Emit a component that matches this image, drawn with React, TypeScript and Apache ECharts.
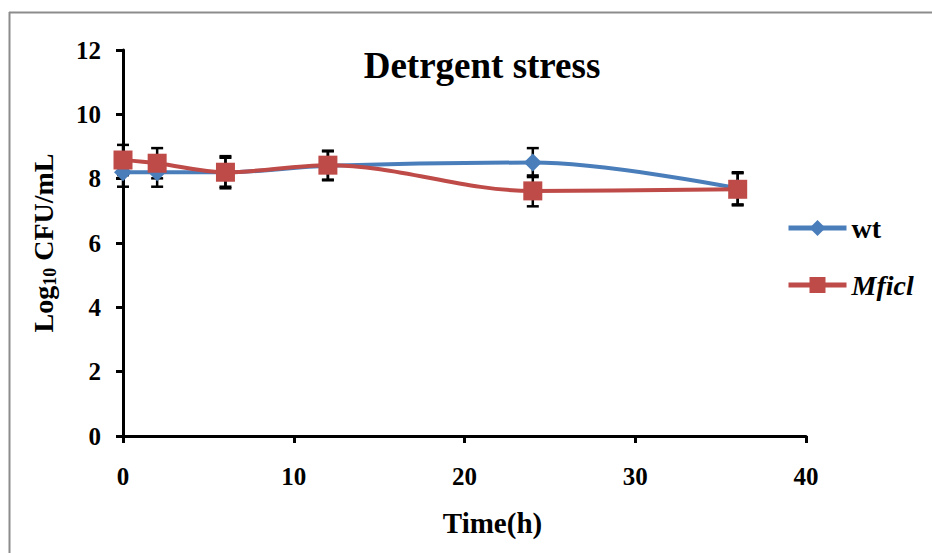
import React, { useEffect, useRef } from "react";
import * as echarts from "echarts";

// Sampling times (h)
const times = [0, 2, 6, 12, 24, 36];
// Mean log10 CFU/mL
const wtValues = [8.2, 8.2, 8.2, 8.4, 8.5, 7.7];
const mficlValues = [8.58, 8.48, 8.2, 8.42, 7.62, 7.67];
// Standard deviations
const wtErrors = [0.45, 0.45, 0.45, 0.45, 0.45, 0.5];
const mficlErrors = [0.47, 0.47, 0.5, 0.45, 0.48, 0.5];

const yTicks = [0, 2, 4, 6, 8, 10, 12];
const xTicks = [0, 10, 20, 30, 40];

const FONT = "'Liberation Serif', 'Times New Roman', serif";

function errorData(values: number[], errs: number[]) {
  return times.map((t, i) => [t, values[i] - errs[i], values[i] + errs[i]]);
}

function renderError(params: any, api: any) {
  const x = api.value(0);
  const lo = api.coord([x, api.value(1)]);
  const hi = api.coord([x, api.value(2)]);
  const half = 6;
  const style = { stroke: "#000", lineWidth: 2.5 };
  return {
    type: "group",
    children: [
      { type: "line", shape: { x1: lo[0], y1: lo[1], x2: hi[0], y2: hi[1] }, style },
      { type: "line", shape: { x1: lo[0] - half, y1: lo[1], x2: lo[0] + half, y2: lo[1] }, style },
      { type: "line", shape: { x1: hi[0] - half, y1: hi[1], x2: hi[0] + half, y2: hi[1] }, style },
    ],
  };
}

export default function App() {
  const ref = useRef<HTMLDivElement>(null);

  useEffect(() => {
    document.body.style.margin = "0";
    const chart = echarts.init(ref.current!, null, { renderer: "svg" });
    chart.setOption({
      animation: false,
      backgroundColor: "#fff",
      title: {
        text: "Detrgent stress",
        left: 477,
        top: 42,
        textAlign: "center",
        textStyle: { fontFamily: FONT, fontWeight: "bold", fontSize: 37, color: "#000" },
      },
      legend: {
        orient: "vertical",
        left: 781,
        top: 209,
        itemGap: 29,
        itemWidth: 58,
        itemHeight: 20,
        data: ["wt", "Mficl"],
        lineStyle: { width: 5 },
        formatter: (name: string) => (name === "Mficl" ? "{i|Mficl}" : "{b|" + name + "}"),
        textStyle: {
          fontFamily: FONT,
          fontWeight: "bold",
          fontSize: 28,
          color: "#000",
          rich: {
            b: { fontFamily: FONT, fontWeight: "bold", fontSize: 28, color: "#000" },
            i: { fontFamily: FONT, fontWeight: "bold", fontStyle: "italic", fontSize: 28, color: "#000" },
          },
        },
      },
      graphic: [
        { type: "line", shape: { x1: 9.5, y1: 12, x2: 9.5, y2: 553 }, style: { stroke: "#8c8c8c", lineWidth: 2 } },
        { type: "line", shape: { x1: 9, y1: 12.5, x2: 932, y2: 12.5 }, style: { stroke: "#8c8c8c", lineWidth: 2 } },
      ],
      grid: { left: 123, top: 50, right: 126, bottom: 117 },
      xAxis: {
        type: "value",
        min: xTicks[0],
        max: xTicks[xTicks.length - 1],
        interval: 10,
        name: "Time(h)",
        nameLocation: "middle",
        nameGap: 72,
        nameTextStyle: { fontFamily: FONT, fontWeight: "bold", fontSize: 29, color: "#000", padding: [0, 0, 0, 56] },
        axisLine: { lineStyle: { color: "#000", width: 3 } },
        axisTick: { show: true, length: 7, lineStyle: { color: "#000", width: 3 } },
        axisLabel: { fontFamily: FONT, fontWeight: "bold", fontSize: 25, color: "#000", margin: 28 },
        splitLine: { show: false },
      },
      yAxis: {
        type: "value",
        min: yTicks[0],
        max: yTicks[yTicks.length - 1],
        interval: 2,
        name: "{n|Log}{s|10}{n| CFU/mL}",
        nameLocation: "middle",
        nameGap: 64,
        nameRotate: 90,
        nameTextStyle: {
          rich: {
            n: { fontFamily: FONT, fontWeight: "bold", fontSize: 28, color: "#000" },
            s: { fontFamily: FONT, fontWeight: "bold", fontSize: 18, color: "#000", verticalAlign: "bottom", padding: [14, 0, 0, 0] },
          },
        },
        axisLine: { show: true, lineStyle: { color: "#000", width: 3 } },
        axisTick: { show: true, length: 7, lineStyle: { color: "#000", width: 3 } },
        axisLabel: { fontFamily: FONT, fontWeight: "bold", fontSize: 25, color: "#000", margin: 22 },
        splitLine: { show: false },
      },
      series: [
        {
          type: "custom",
          name: "wt-err",
          renderItem: renderError,
          data: errorData(wtValues, wtErrors),
          encode: { x: 0, y: [1, 2] },
          z: 1,
          silent: true,
        },
        {
          type: "custom",
          name: "mficl-err",
          renderItem: renderError,
          data: errorData(mficlValues, mficlErrors),
          encode: { x: 0, y: [1, 2] },
          z: 1,
          silent: true,
        },
        {
          type: "line",
          name: "wt",
          data: times.map((t, i) => [t, wtValues[i]]),
          smooth: 0.35,
          symbol: "diamond",
          symbolSize: 18,
          color: "#4A7EBB",
          lineStyle: { width: 4, color: "#4A7EBB" },
          itemStyle: { color: "#4A7EBB" },
          z: 3,
        },
        {
          type: "line",
          name: "Mficl",
          data: times.map((t, i) => [t, mficlValues[i]]),
          smooth: 0.35,
          symbol: "rect",
          symbolSize: 19,
          color: "#BE4B48",
          lineStyle: { width: 4, color: "#BE4B48" },
          itemStyle: { color: "#BE4B48" },
          z: 4,
        },
      ],
    });
    return () => chart.dispose();
  }, []);

  return <div ref={ref} style={{ position: "absolute", left: 0, top: 0, width: 932, height: 553 }} />;
}
